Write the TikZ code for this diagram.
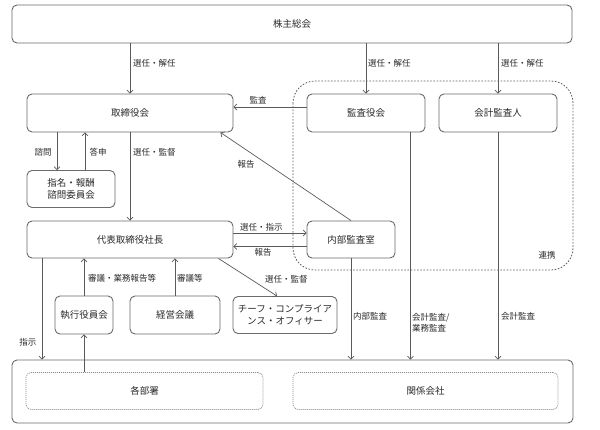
\documentclass[tikz,border=0pt]{standalone}
\usepackage{fontspec}
\setmainfont{Noto Sans CJK JP}
\usetikzlibrary{arrows.meta}
\definecolor{linec}{HTML}{5A5A5A}
\definecolor{boxc}{HTML}{6A6A6A}
\definecolor{textc}{HTML}{2A2A2A}
\definecolor{dotc}{HTML}{8A8A8A}
\begin{document}
\begin{tikzpicture}[x=1pt,y=-1pt,
  box/.style={draw=boxc, line width=0.9pt, rounded corners=5pt, fill=white, text=textc,
    font=\fontsize{9.5}{12}\selectfont, inner sep=0pt, align=center},
  dbox/.style={draw=dotc, line width=0.7pt, dash pattern=on 1pt off 1pt, rounded corners=5pt,
    text=textc, font=\fontsize{9.5}{12}\selectfont, inner sep=0pt},
  lbl/.style={text=textc, font=\fontsize{8.5}{10.5}\selectfont, inner sep=0pt},
  arr/.style={draw=linec, line width=0.7pt, -{Straight Barb[length=3pt,width=6pt]}},
  ln/.style={draw=linec, line width=0.7pt}]
\useasboundingbox (0,0) rectangle (600,429);

% collaboration region
\draw[draw=linec, line width=0.8pt, dash pattern=on 1.6pt off 1.6pt, rounded corners=22pt]
  (293,81) rectangle (573,270);
\node[lbl] (renkei) at (547,255) {連携};

% boxes
\node[box, minimum width=560, minimum height=38] (kabu) at (292,24) {株主総会};
\node[box, minimum width=206, minimum height=38] (tori) at (130,113) {取締役会};
\node[box, minimum width=118, minimum height=38] (kansa) at (366,113) {監査役会};
\node[box, minimum width=118, minimum height=38] (kaikei) at (498,113) {会計監査人};
\node[box, minimum width=88, minimum height=37] (iinkai) at (71,189) {指名・報酬\\諮問委員会};
\node[box, minimum width=206, minimum height=37] (shacho) at (130,239.5) {代表取締役社長};
\node[box, minimum width=88, minimum height=37] (naibu) at (351,239.5) {内部監査室};
\node[box, minimum width=58, minimum height=38] (shikko) at (84,315) {執行役員会};
\node[box, minimum width=90, minimum height=38] (keiei) at (175,315) {経営会議};
\node[box, minimum width=104, minimum height=37] (chief) at (285,315) {チーフ・コンプライア\\ンス・オフィサー};
\node[box, minimum width=561, minimum height=63] (outer) at (292.5,391.5) {};
\node[dbox, minimum width=237, minimum height=37] (bu) at (144.5,391) {各部署};
\node[dbox, minimum width=265, minimum height=37] (kanren) at (425.5,391) {関係会社};

% shareholders -> boards
\draw[arr] (kabu.south -| tori) -- (tori.north);
\node[lbl, anchor=west] (l1) at (133,63) {選任・解任};
\draw[arr] (kabu.south -| kansa) -- (kansa.north);
\node[lbl, anchor=west] (l2) at (368,63) {選任・解任};
\draw[arr] (kabu.south -| kaikei) -- (kaikei.north);
\node[lbl, anchor=west] (l3) at (501,63) {選任・解任};

% audit
\draw[arr] ([yshift=6pt]kansa.west) -- ([yshift=6pt]kansa.west -| tori.east);
\node[lbl] (l4) at (258,100) {監査};

% report diagonal
\draw[arr] (naibu.north) -- ([xshift=-13pt]tori.south east);
\node[lbl] (l5) at (246,164) {報告};

% committee
\draw[arr] ([xshift=-14pt]iinkai.north |- tori.south) -- ([xshift=-14pt]iinkai.north);
\node[lbl] (l6) at (43,152) {諮問};
\draw[arr] ([xshift=14pt]iinkai.north) -- ([xshift=14pt]iinkai.north |- tori.south);
\node[lbl] (l7) at (98,152) {答申};

% board -> president
\draw[arr] (tori.south) -- (shacho.north);
\node[lbl, anchor=west] (l8) at (133,152) {選任・監督};

% president <-> internal audit
\draw[arr] ([yshift=6.5pt]shacho.east) -- ([yshift=6.5pt]naibu.west);
\node[lbl, anchor=west] (l9) at (240,227) {選任・指示};
\draw[arr] ([yshift=-7pt]naibu.west) -- ([yshift=-7pt]shacho.east);
\node[lbl] (l10) at (263,252) {報告};

% president -> chief
\draw[arr] ([xshift=-15pt]shacho.south east) -- ([xshift=-8pt]chief.north);
\node[lbl, anchor=west] (l11) at (265,279) {選任・監督};

% councils -> president
\draw[arr] (shikko.north) -- (shikko.north |- shacho.south);
\node[lbl, anchor=west] (l12) at (88,278) {審議・業務報告等};
\draw[arr] (keiei.north) -- (keiei.north |- shacho.south);
\node[lbl, anchor=west] (l13) at (177,278) {審議等};

% president -> departments
\coordinate (c1) at ([xshift=-88pt]shacho.south);
\draw[arr] (c1) -- (c1 |- outer.north);
\node[lbl] (l14) at (28,342) {指示};

% departments -> executive committee
\draw[arr] (bu.north -| shikko) -- (shikko.south);

% audits -> bottom
\draw[arr] (naibu.south) -- (naibu.south |- outer.north);
\node[lbl, anchor=west] (l15) at (353,316) {内部監査};
\coordinate (c2) at ([xshift=-15pt]kansa.south east);
\draw[arr] (c2) -- (c2 |- outer.north);
\node[lbl, anchor=west, align=left] (l16) at (412,323) {会計監査/\\業務監査};
\draw[arr] (kaikei.south) -- (kaikei.south |- outer.north);
\node[lbl, anchor=west] (l17) at (501,316) {会計監査};
\end{tikzpicture}
\end{document}
